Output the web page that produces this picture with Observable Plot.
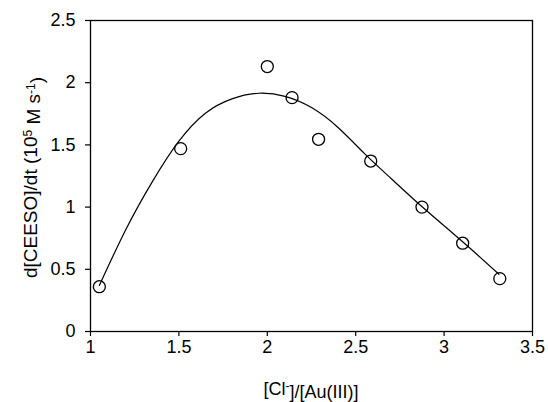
<!DOCTYPE html>
<html>
<head>
<meta charset="utf-8">
<script src="https://cdn.jsdelivr.net/npm/d3@7"></script>
<script src="https://cdn.jsdelivr.net/npm/@observablehq/plot@0.6"></script>
<style>
  html, body { margin: 0; padding: 0; background: #fff; }
  #chart { width: 548px; height: 402px; }
</style>
</head>
<body>
<div id="chart"></div>
<script>
// Measured data points
const ratio = [1.05, 1.51, 2.00, 2.14, 2.29, 2.585, 2.875, 3.105, 3.315];
const rate  = [0.36, 1.47, 2.13, 1.88, 1.545, 1.37, 1.00, 0.71, 0.425];

// Fitted curve
const fitX = [1.05, 1.20, 1.35, 1.50, 1.65, 1.80, 1.95, 2.10, 2.25, 2.40, 2.55, 2.70, 2.85, 3.00, 3.15, 3.31];
const fitY = [0.37, 0.82, 1.205, 1.53, 1.755, 1.87, 1.915, 1.89, 1.80, 1.64, 1.43, 1.23, 1.035, 0.85, 0.665, 0.46];

// Axis ticks
const xTicks = [1, 1.5, 2, 2.5, 3, 3.5];
const xTickLabels = ["1", "1.5", "2", "2.5", "3", "3.5"];
const yTicks = [0, 0.5, 1, 1.5, 2, 2.5];
const yTickLabels = ["0", "0.5", "1", "1.5", "2", "2.5"];

const points = ratio.map((x, i) => ({x, y: rate[i]}));
const fit = fitX.map((x, i) => ({x, y: fitY[i]}));

const svg = Plot.plot({
  width: 548,
  height: 402,
  marginLeft: 90,
  marginRight: 16,
  marginTop: 20,
  marginBottom: 71,
  style: {fontFamily: "'Liberation Sans', Arial, sans-serif", fontSize: "18px", color: "black", background: "white"},
  x: {domain: [1, 3.5]},
  y: {domain: [0, 2.5]},
  marks: [
    Plot.frame({stroke: "black", strokeWidth: 1.3}),
    Plot.axisX({ticks: xTicks, tickSize: 5, tickPadding: 4, label: null,
      tickFormat: d => xTickLabels[xTicks.indexOf(d)], stroke: "black", strokeWidth: 1.2, fill: "black"}),
    Plot.axisY({ticks: yTicks, tickSize: 5, tickPadding: 10, label: null,
      tickFormat: d => yTickLabels[yTicks.indexOf(d)], stroke: "black", strokeWidth: 1.2, fill: "black"}),
    Plot.line(fit, {x: "x", y: "y", curve: "natural", stroke: "black", strokeWidth: 1.2}),
    Plot.dot(points, {x: "x", y: "y", r: 6, stroke: "black", strokeWidth: 1.3, fill: "none"})
  ]
});

document.getElementById("chart").appendChild(svg);

const s = d3.select(svg);
const font = "'Liberation Sans', Arial, sans-serif";

// X axis title: [Cl-]/[Au(III)]
const xt = s.append("text")
  .attr("x", 311).attr("y", 395)
  .attr("text-anchor", "middle")
  .attr("font-family", font).attr("font-size", 18).attr("fill", "black");
xt.append("tspan").text("[Cl");
xt.append("tspan").attr("dy", "-0.45em").attr("font-size", 12).text("-");
xt.append("tspan").attr("dy", "0.45em").text("]/[Au(III)]");

// Y axis title: d[CEESO]/dt (10^5 M s^-1)
const yt = s.append("text")
  .attr("transform", "translate(37,177.5) rotate(-90)")
  .attr("text-anchor", "middle")
  .attr("font-family", font).attr("font-size", 19).attr("fill", "black");
yt.append("tspan").text("d[CEESO]/dt (10");
yt.append("tspan").attr("dy", "-0.45em").attr("font-size", 12).text("5");
yt.append("tspan").attr("dy", "0.45em").text(" M s");
yt.append("tspan").attr("dy", "-0.45em").attr("font-size", 12).text("-1");
yt.append("tspan").attr("dy", "0.45em").text(")");
</script>
</body>
</html>
